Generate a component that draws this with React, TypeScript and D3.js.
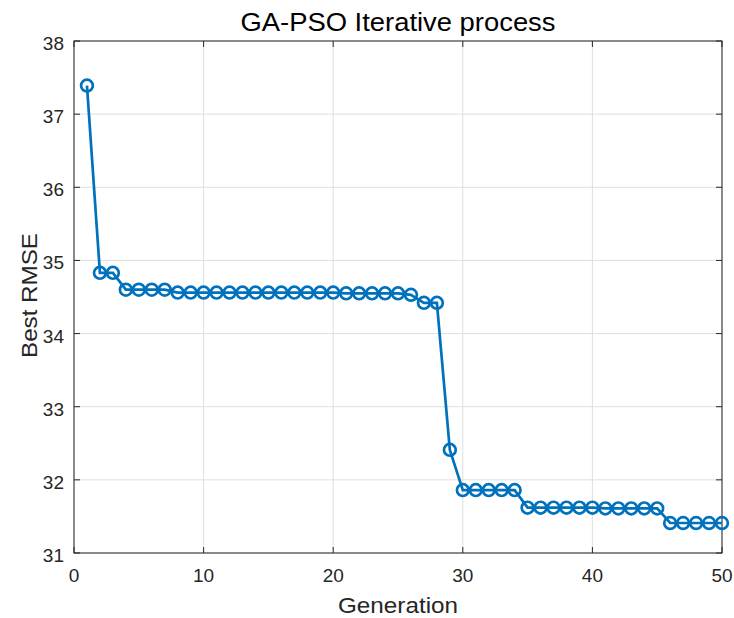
import React from "react";
import * as d3 from "d3";

const generations = d3.range(1, 51);
const bestRMSE = [
  37.39, 34.83, 34.83, 34.6, 34.6, 34.6, 34.6, 34.56, 34.56, 34.56,
  34.56, 34.56, 34.56, 34.56, 34.56, 34.56, 34.56, 34.56, 34.56, 34.56,
  34.55, 34.55, 34.55, 34.55, 34.55, 34.53, 34.42, 34.42, 32.41, 31.86,
  31.86, 31.86, 31.86, 31.86, 31.62, 31.62, 31.62, 31.62, 31.62, 31.62,
  31.61, 31.61, 31.61, 31.61, 31.61, 31.41, 31.41, 31.41, 31.41, 31.41,
];
const xTicks = [0, 10, 20, 30, 40, 50];
const yTicks = [31, 32, 33, 34, 35, 36, 37, 38];

const W = 734, H = 618;
const L = 74, R = 722, T = 41, B = 553;

export default function App() {
  const x = d3.scaleLinear().domain([0, 50]).range([L, R]);
  const y = d3.scaleLinear().domain([31, 38]).range([B, T]);
  const data = generations.map((g, i) => ({ g, v: bestRMSE[i] }));
  const line = d3.line<{ g: number; v: number }>().x(d => x(d.g)).y(d => y(d.v));
  const font = "'Liberation Sans', Arial, sans-serif";
  const axisColor = "#262626";
  const tl = 6;
  return (
    <svg width={W} height={H} style={{ position: "absolute", left: 0, top: 0, background: "#fff" }} fontFamily={font}>
      <rect x={0} y={0} width={W} height={H} fill="#fff" />
      {xTicks.map(t => (
        <line key={"gx" + t} x1={x(t)} x2={x(t)} y1={T} y2={B} stroke="#dfdfdf" strokeWidth={1} />
      ))}
      {yTicks.map(t => (
        <line key={"gy" + t} x1={L} x2={R} y1={y(t)} y2={y(t)} stroke="#dfdfdf" strokeWidth={1} />
      ))}
      {xTicks.map(t => (
        <g key={"tx" + t}>
          <line x1={x(t)} x2={x(t)} y1={B} y2={B - tl} stroke={axisColor} />
          <line x1={x(t)} x2={x(t)} y1={T} y2={T + tl} stroke={axisColor} />
          <text x={x(t)} y={B + 29} textAnchor="middle" fontSize={19} fill={axisColor}>{t}</text>
        </g>
      ))}
      {yTicks.map(t => (
        <g key={"ty" + t}>
          <line x1={L} x2={L + tl} y1={y(t)} y2={y(t)} stroke={axisColor} />
          <line x1={R} x2={R - tl} y1={y(t)} y2={y(t)} stroke={axisColor} />
          <text x={L - 10} y={y(t) + 9} textAnchor="end" fontSize={19} fill={axisColor}>{t}</text>
        </g>
      ))}
      <rect x={L} y={T} width={R - L} height={B - T} fill="none" stroke={axisColor} strokeWidth={1} />
      <path d={line(data) || ""} fill="none" stroke="#0072BD" strokeWidth={2.7} />
      {data.map(d => (
        <circle key={d.g} cx={x(d.g)} cy={y(d.v)} r={5.9} fill="none" stroke="#0072BD" strokeWidth={2.7} />
      ))}
      <text x={(L + R) / 2} y={31} textAnchor="middle" fontSize={25} textLength={315} lengthAdjust="spacingAndGlyphs" fill="#000">GA-PSO Iterative process</text>
      <text x={(L + R) / 2} y={613} textAnchor="middle" fontSize={22} textLength={120} lengthAdjust="spacingAndGlyphs" fill={axisColor}>Generation</text>
      <text transform={`translate(37, ${(T + B) / 2 - 1.5}) rotate(-90)`} textAnchor="middle" fontSize={22} textLength={125} lengthAdjust="spacingAndGlyphs" fill={axisColor}>Best RMSE</text>
    </svg>
  );
}
